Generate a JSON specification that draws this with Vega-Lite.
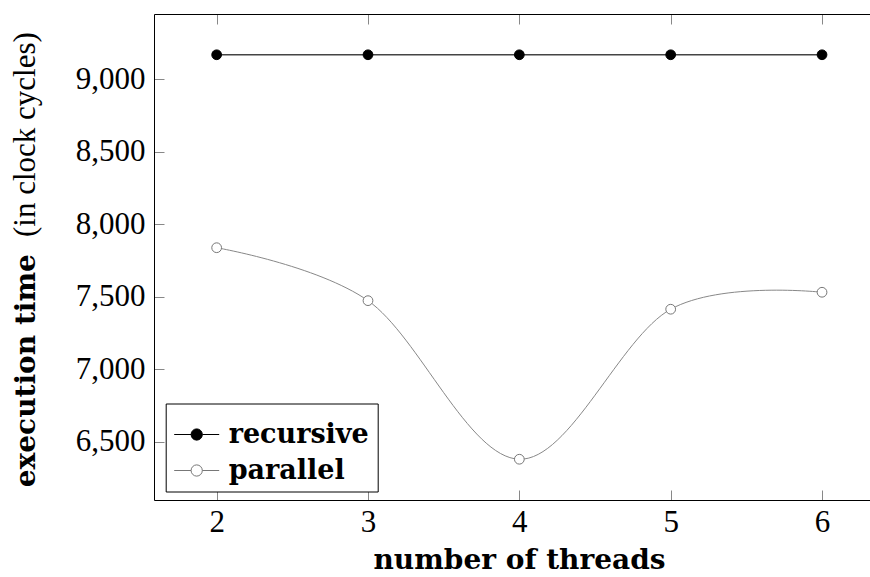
{
  "$schema": "https://vega.github.io/schema/vega-lite/v6.json",
  "width": 716,
  "height": 486,
  "autosize": {"type": "none"},
  "padding": {"left": 154, "top": 14, "right": 0, "bottom": 77},
  "background": "white",
  "config": {
    "view": {"stroke": null},
    "font": "Liberation Serif",
    "axis": {
      "labelFont": "Liberation Serif",
      "labelFontSize": 31,
      "labelColor": "black",
      "titleFont": "DejaVu Serif",
      "titleFontSize": 28,
      "titleColor": "black",
      "domainColor": "black",
      "domainWidth": 1,
      "tickColor": "#888",
      "tickWidth": 1,
      "tickSize": -10,
      "grid": false
    }
  },
  "data": {
    "values": [
      {"threads": 2, "time": 9169, "series": "recursive"},
      {"threads": 3, "time": 9169, "series": "recursive"},
      {"threads": 4, "time": 9169, "series": "recursive"},
      {"threads": 5, "time": 9169, "series": "recursive"},
      {"threads": 6, "time": 9169, "series": "recursive"},
      {"threads": 2, "time": 7839, "series": "parallel"},
      {"threads": 3, "time": 7474, "series": "parallel"},
      {"threads": 4, "time": 6381, "series": "parallel"},
      {"threads": 5, "time": 7415, "series": "parallel"},
      {"threads": 6, "time": 7532, "series": "parallel"}
    ]
  },
  "layer": [
    {
      "transform": [{"filter": "datum.series === 'recursive'"}],
      "mark": {"type": "line", "color": "#444", "strokeWidth": 1.6},
      "encoding": {
        "x": {
          "field": "threads", "type": "quantitative",
          "scale": {"domain": [1.586, 6.317], "nice": false, "zero": false},
          "axis": {
            "orient": "bottom", "values": [2, 3, 4, 5, 6], "format": "d",
            "labelPadding": 17,
            "title": "number of threads", "titleFontWeight": "bold",
            "titleX": 365, "titleY": 68, "titleBaseline": "alphabetic", "titleAlign": "center"
          }
        },
        "y": {
          "field": "time", "type": "quantitative",
          "scale": {"domain": [6100, 9450], "nice": false, "zero": false},
          "axis": {
            "orient": "left", "values": [6500, 7000, 7500, 8000, 8500, 9000], "format": ",d",
            "labelPadding": 19,
            "title": "execution time", "titleFontWeight": "bold",
            "titleAngle": 270, "titleAlign": "left", "titleBaseline": "alphabetic",
            "titleX": -120, "titleY": 472.7
          }
        }
      }
    },
    {
      "transform": [{"filter": "datum.series === 'parallel'"}],
      "mark": {"type": "line", "color": "#888", "strokeWidth": 1, "interpolate": "cardinal"},
      "encoding": {
        "x": {
          "field": "threads", "type": "quantitative",
          "scale": {"domain": [1.586, 6.317], "nice": false, "zero": false},
          "axis": {"orient": "top", "values": [2, 3, 4, 5, 6], "labels": false, "title": null}
        },
        "y": {
          "field": "time", "type": "quantitative",
          "scale": {"domain": [6100, 9450], "nice": false, "zero": false},
          "axis": {
            "orient": "left", "labels": false, "ticks": false, "domain": false,
            "title": "(in clock cycles)", "titleFontWeight": "normal",
            "titleFont": "Liberation Serif", "titleFontSize": 31,
            "titleAngle": 270, "titleAlign": "right", "titleBaseline": "alphabetic",
            "titleX": -120, "titleY": 17.7
          }
        }
      }
    },
    {
      "mark": {"type": "point", "filled": true, "size": 95, "strokeWidth": 1, "opacity": 1},
      "encoding": {
        "x": {
          "field": "threads", "type": "quantitative",
          "scale": {"domain": [1.586, 6.317], "nice": false, "zero": false},
          "axis": null
        },
        "y": {
          "field": "time", "type": "quantitative",
          "scale": {"domain": [6100, 9450], "nice": false, "zero": false},
          "axis": null
        },
        "fill": {
          "field": "series", "type": "nominal",
          "scale": {"domain": ["recursive", "parallel"], "range": ["black", "white"]},
          "legend": {
            "title": null, "orient": "none", "legendX": 11.7, "legendY": 389.5,
            "symbolType": "M-1,0H-0.25M0.25,0H1M-0.25,0A0.25,0.25 0 1,0 0.25,0A0.25,0.25 0 1,0 -0.25,0Z",
            "symbolSize": 2025, "symbolStrokeWidth": 1, "symbolOpacity": 1,
            "labelFont": "DejaVu Serif", "labelFontSize": 27, "labelFontWeight": "bold",
            "labelColor": "black", "labelOffset": 9,
            "padding": 8, "strokeColor": "black", "fillColor": "white", "rowPadding": 0
          }
        },
        "stroke": {
          "field": "series", "type": "nominal",
          "scale": {"domain": ["recursive", "parallel"], "range": ["black", "#777"]},
          "legend": {
            "title": null, "orient": "none", "legendX": 11.7, "legendY": 389.5,
            "symbolType": "M-1,0H-0.25M0.25,0H1M-0.25,0A0.25,0.25 0 1,0 0.25,0A0.25,0.25 0 1,0 -0.25,0Z",
            "symbolSize": 2025, "symbolStrokeWidth": 1, "symbolOpacity": 1,
            "labelFont": "DejaVu Serif", "labelFontSize": 27, "labelFontWeight": "bold",
            "labelColor": "black", "labelOffset": 9,
            "padding": 8, "strokeColor": "black", "fillColor": "white", "rowPadding": 0
          }
        }
      }
    }
  ],
  "resolve": {"axis": {"x": "independent", "y": "independent"}}
}
